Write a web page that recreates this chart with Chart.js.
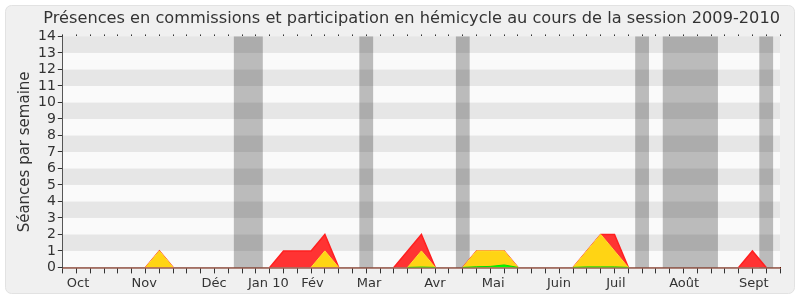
<!DOCTYPE html>
<html>
<head>
<meta charset="utf-8">
<script src="https://cdn.jsdelivr.net/npm/chart.js@4"></script>
<style>
  html, body { margin: 0; padding: 0; background: #ffffff; }
  #wrap { width: 800px; height: 300px; }
</style>
</head>
<body>
<div id="wrap"><canvas id="chart" width="800" height="300"></canvas></div>
<script>
// semaines de la session (index 0 = début octobre 2009)
const weeks = Array.from({ length: 53 }, (_, i) => i);

// libellés des mois et leur position (en semaines)
const monthLabels = ['Oct', 'Nov', 'Déc', 'Jan 10', 'Fév', 'Mar', 'Avr', 'Mai', 'Juin', 'Juil', 'Août', 'Sept'];
const monthPos = [1.1, 5.9, 10.97, 14.9, 18.1, 22.2, 26.98, 31.2, 35.97, 40.1, 45.05, 50.1];

// vacances parlementaires [début, fin] en semaines
const vacances = [[12.4, 14.5], [21.5, 22.5], [28.5, 29.5], [41.5, 42.5], [43.5, 47.5], [50.5, 51.5]];

// séances par semaine
const presenceTotale = [
    0, 0, 0, 0, 0, 0, 0, 1, 0, 0,
    0, 0, 0, 0, 0, 0, 1, 1, 1, 2,
    0, 0, 0, 0, 0, 1, 2, 0, 0, 0,
    1, 1, 1, 0, 0, 0, 0, 0, 1, 2,
    2, 0, 0, 0, 0, 0, 0, 0, 0, 0,
    1, 0, 0
];
const presenceCommission = [
    0, 0, 0, 0, 0, 0, 0, 1, 0, 0,
    0, 0, 0, 0, 0, 0, 0, 0, 0, 1,
    0, 0, 0, 0, 0, 0, 1, 0, 0, 0,
    1, 1, 1, 0, 0, 0, 0, 0, 1, 2,
    1, 0, 0, 0, 0, 0, 0, 0, 0, 0,
    0, 0, 0
];
const interventions = [
    0, 0, 0, 0, 0, 0, 0, 0, 0, 0,
    0, 0, 0, 0, 0, 0, 0, 0, 0, 0,
    0, 0, 0, 0, 0, 0, 0.02, 0, 0, 0,
    0.04, 0.06, 0.15, 0, 0, 0, 0, 0, 0.03, 0.03,
    0.03, 0, 0, 0, 0, 0, 0, 0, 0, 0,
    0, 0, 0
];

const yTicks = Array.from({ length: 15 }, (_, i) => i);

const FONT = "'DejaVu Sans', sans-serif";

// pas de trait sur les segments à zéro (la ligne de base reste sombre)
const cacheZero = (ctx) => (ctx.p0.parsed.y === 0 && ctx.p1.parsed.y === 0) ? 'rgba(0,0,0,0)' : undefined;

// fond du cadre + bandes horizontales + vacances
const fondPlugin = {
    id: 'fond',
    beforeDraw(chart) {
        const ctx = chart.ctx;
        ctx.save();
        ctx.fillStyle = '#ffffff';
        ctx.fillRect(0, 0, chart.width, chart.height);
        ctx.beginPath();
        ctx.roundRect(5.5, 5.5, 789, 288, 6);
        ctx.fillStyle = '#f0f0f0';
        ctx.fill();
        ctx.strokeStyle = '#e2e2e2';
        ctx.lineWidth = 1;
        ctx.stroke();
        ctx.restore();
    },
    beforeDatasetsDraw(chart) {
        const ctx = chart.ctx;
        const area = chart.chartArea;
        const x = chart.scales.x;
        const y = chart.scales.y;
        ctx.save();
        for (let v = 0; v < 14; v++) {
            ctx.fillStyle = v % 2 === 0 ? '#fafafa' : '#e6e6e6';
            const top = y.getPixelForValue(v + 1);
            const bot = y.getPixelForValue(v);
            ctx.fillRect(area.left, top, area.right - area.left, bot - top);
        }
        ctx.fillStyle = 'rgba(0,0,0,0.25)';
        vacances.forEach(([a, b]) => {
            const x0 = x.getPixelForValue(a);
            const x1 = x.getPixelForValue(b);
            ctx.fillRect(x0, area.top, x1 - x0, area.bottom - area.top);
        });
        ctx.restore();
    }
};

new Chart(document.getElementById('chart').getContext('2d'), {
    type: 'line',
    data: {
        labels: weeks,
        datasets: [
            {
                label: 'Interventions',
                data: interventions,
                borderColor: '#00dd00',
                backgroundColor: '#00ff00',
                borderWidth: 1,
                fill: 'origin',
                pointRadius: 0,
                segment: { borderColor: cacheZero },
                order: 0
            },
            {
                label: 'Commission',
                data: presenceCommission,
                borderColor: '#ffe030',
                backgroundColor: '#ffd414',
                borderWidth: 1,
                fill: 'origin',
                pointRadius: 0,
                segment: { borderColor: cacheZero },
                order: 1
            },
            {
                label: 'Hémicycle',
                data: presenceTotale,
                borderColor: '#ff2020',
                backgroundColor: '#ff3333',
                borderWidth: 1.5,
                fill: 'origin',
                pointRadius: 0,
                segment: { borderColor: cacheZero },
                order: 2
            }
        ]
    },
    options: {
        responsive: false,
        animation: false,
        layout: { padding: { left: 16, right: 20, top: 0, bottom: 7 } },
        plugins: {
            legend: { display: false },
            tooltip: { enabled: false },
            title: {
                display: true,
                align: 'end',
                text: 'Présences en commissions et participation en hémicycle au cours de la session 2009-2010',
                color: '#333333',
                font: { family: FONT, size: 16.2, weight: 'normal' },
                padding: { top: 9, bottom: 6 }
            }
        },
        scales: {
            x: {
                type: 'linear',
                min: 0,
                max: 52,
                z: 1,
                afterBuildTicks(scale) {
                    const t = weeks.map(v => ({ value: v })).concat(monthPos.map(v => ({ value: v })));
                    t.sort((a, b) => a.value - b.value);
                    scale.ticks = t;
                },
                ticks: {
                    autoSkip: false,
                    maxRotation: 0,
                    color: '#333333',
                    padding: 2,
                    font: { family: FONT, size: 13 },
                    callback(value) {
                        const k = monthPos.indexOf(value);
                        return k >= 0 ? monthLabels[k] : '';
                    }
                },
                grid: {
                    drawOnChartArea: false,
                    tickLength: 6,
                    tickColor: (c) => (c.tick && Number.isInteger(c.tick.value)) ? '#333333' : 'rgba(0,0,0,0)'
                },
                border: { color: '#6b1500', width: 1.5 }
            },
            xTop: {
                type: 'linear',
                position: 'top',
                min: 0,
                max: 52,
                ticks: { display: false, stepSize: 1 },
                grid: { drawOnChartArea: false, tickLength: 2, tickColor: '#333333' },
                border: { display: false }
            },
            y: {
                min: 0,
                max: 14,
                afterBuildTicks(scale) {
                    scale.ticks = yTicks.map(v => ({ value: v }));
                },
                title: {
                    display: true,
                    text: 'Séances par semaine',
                    color: '#333333',
                    font: { family: FONT, size: 15 },
                    padding: { top: 0, bottom: 2 }
                },
                ticks: {
                    autoSkip: false,
                    color: '#333333',
                    padding: 2,
                    font: { family: FONT, size: 14 }
                },
                grid: { drawOnChartArea: false, tickLength: 5, tickColor: '#333333' },
                border: { color: '#333333' }
            }
        }
    },
    plugins: [fondPlugin]
});
</script>
</body>
</html>
